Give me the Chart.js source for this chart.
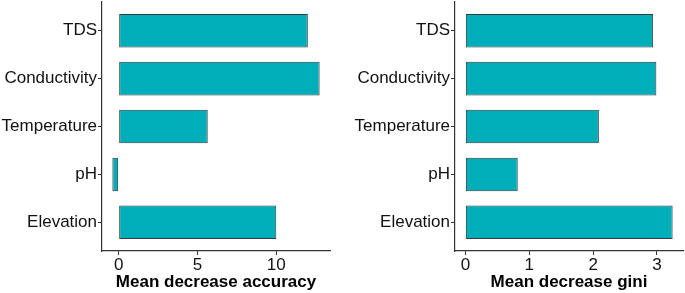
<!DOCTYPE html>
<html>
<head>
<meta charset="utf-8">
<script src="https://cdn.jsdelivr.net/npm/chart.js@4"></script>
<style>
  html, body { margin: 0; padding: 0; background: #fff; }
  #wrap { position: relative; width: 685px; height: 293px; }
  .panel { position: absolute; top: 0; height: 293px; }
</style>
</head>
<body>
<div id="wrap">
  <div class="panel" style="left:0;width:340px"><canvas id="accChart"></canvas></div>
  <div class="panel" style="left:340px;width:345px"><canvas id="giniChart"></canvas></div>
</div>
<script>
// variables, top to bottom as in the plot
const variables = ['TDS', 'Conductivity', 'Temperature', 'pH', 'Elevation'];

// mean decrease accuracy
const accuracy = [12.0, 12.75, 5.65, -0.4, 10.0];
const accuracyTicks = [0, 5, 10];

// mean decrease gini
const gini = [2.94, 2.99, 2.09, 0.82, 3.245];
const giniTicks = [0, 1, 2, 3];

const fill = '#00AEBA';
const edge = '#2F3B3F';
const axisColor = '#333333';
const font = 'Liberation Sans, Arial, sans-serif';

// ggplot-like padding: 5% on the value axis, 0.6 of a step on the discrete one
function paddedRange(values) {
  const lo = Math.min(0, ...values);
  const hi = Math.max(0, ...values);
  const pad = (hi - lo) * 0.05;
  return [lo - pad, hi + pad];
}

function drawImportance(canvasId, values, tickValues, title, axisWidth, rightPad) {
  const [xMin, xMax] = paddedRange(values);
  const points = values.map((v, i) => ({ x: v, y: i }));

  return new Chart(document.getElementById(canvasId), {
    type: 'bar',
    data: {
      datasets: [{
        data: points,
        backgroundColor: fill,
        borderColor: edge,
        borderWidth: 1,
        borderSkipped: false,
        categoryPercentage: 1,
        barPercentage: 0.7
      }]
    },
    options: {
      indexAxis: 'y',
      responsive: true,
      maintainAspectRatio: false,
      animation: false,
      layout: { padding: { top: 2, right: rightPad, left: 0, bottom: 0 } },
      plugins: { legend: { display: false }, tooltip: { enabled: false } },
      scales: {
        x: {
          type: 'linear',
          min: xMin,
          max: xMax,
          afterBuildTicks: (scale) => {
            scale.ticks = tickValues.map((v) => ({ value: v }));
          },
          afterFit: (scale) => {
            scale.height = 42;
            scale.paddingLeft = 0;
            scale.paddingRight = 0;
          },
          border: { display: true, color: axisColor, width: 1.2 },
          grid: { display: true, drawOnChartArea: false, tickLength: 4, color: axisColor },
          ticks: {
            color: '#111',
            padding: 0,
            maxRotation: 0,
            font: { family: font, size: 17 }
          },
          title: {
            display: true,
            text: title,
            color: '#000',
            padding: { top: 0, bottom: 0 },
            font: { family: font, size: 17, weight: 'bold' }
          }
        },
        y: {
          type: 'linear',
          reverse: true,
          offset: false,
          min: -0.6,
          max: variables.length - 0.4,
          afterBuildTicks: (scale) => {
            scale.ticks = variables.map((_, i) => ({ value: i }));
          },
          afterFit: (scale) => {
            scale.width = axisWidth;
            scale.paddingTop = 0;
            scale.paddingBottom = 0;
          },
          border: { display: true, color: axisColor, width: 1.2 },
          grid: { display: true, offset: false, drawOnChartArea: false, tickLength: 4, color: axisColor },
          ticks: {
            color: '#111',
            padding: 1,
            font: { family: font, size: 17 },
            callback: (v) => variables[v]
          }
        }
      }
    }
  });
}

drawImportance('accChart', accuracy, accuracyTicks, 'Mean decrease accuracy', 102, 10);
drawImportance('giniChart', gini, giniTicks, 'Mean decrease gini', 115, 2);
</script>
</body>
</html>
